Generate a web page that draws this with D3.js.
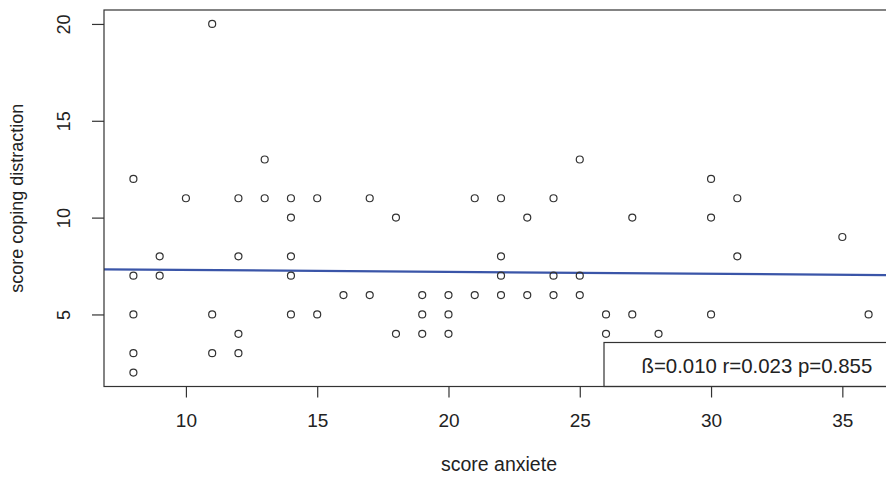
<!DOCTYPE html>
<html>
<head>
<meta charset="utf-8">
<script src="https://cdn.jsdelivr.net/npm/d3@7"></script>
<style>
  html, body { margin: 0; padding: 0; background: #fff; }
  svg { display: block; }
  text { font-family: "Liberation Sans", Arial, sans-serif; fill: #222; }
</style>
</head>
<body>
<div id="chart"></div>
<script>
// Anxiety score (x) and coping-by-distraction score (y), one entry per respondent
const anxiety = [
  8, 8, 8, 8, 8,
  9, 9,
  10,
  11, 11, 11,
  12, 12, 12, 12,
  13, 13,
  14, 14, 14, 14, 14,
  15, 15,
  16,
  17, 17,
  18, 18,
  19, 19, 19,
  20, 20, 20,
  21, 21,
  22, 22, 22, 22,
  23, 23,
  24, 24, 24,
  25, 25, 25,
  26, 26,
  27, 27,
  28,
  30, 30, 30,
  31, 31,
  35,
  36
];
const coping = [
  12, 7, 5, 3, 2,
  8, 7,
  11,
  20, 5, 3,
  11, 8, 4, 3,
  13, 11,
  11, 10, 8, 7, 5,
  11, 5,
  6,
  11, 6,
  10, 4,
  6, 5, 4,
  6, 5, 4,
  11, 6,
  11, 8, 7, 6,
  10, 6,
  11, 7, 6,
  13, 7, 6,
  5, 4,
  10, 5,
  4,
  12, 10, 5,
  11, 8,
  9,
  5
];

// Fitted regression line (intercept, slope) and the summary shown in the legend
const fitCoef = [7.40, -0.010];
const statsLabel = ["ß=0.010", "r=0.023", "p=0.855"];

const xTicks = [10, 15, 20, 25, 30, 35];
const yTicks = [5, 10, 15, 20];
const xTitle = "score anxiete";
const yTitle = "score coping distraction";

const W = 886, H = 478;
const plot = { left: 104, right: 898, top: 10, bottom: 386.5 };

// R-style 4% padding around the data range
function padded(vals) {
  const [lo, hi] = d3.extent(vals);
  const p = (hi - lo) * 0.04;
  return [lo - p, hi + p];
}

const x = d3.scaleLinear().domain(padded(anxiety)).range([plot.left, plot.right]);
const y = d3.scaleLinear().domain(padded(coping)).range([plot.bottom, plot.top]);

const svg = d3.select("#chart").append("svg")
  .attr("width", W).attr("height", H);

svg.append("defs").append("clipPath").attr("id", "plotClip")
  .append("rect")
  .attr("x", plot.left).attr("y", plot.top)
  .attr("width", plot.right - plot.left).attr("height", plot.bottom - plot.top);

const inner = svg.append("g").attr("clip-path", "url(#plotClip)");

// Regression line across the whole plotting region
const [x0, x1] = x.domain();
inner.append("line")
  .attr("x1", x(x0)).attr("y1", y(fitCoef[0] + fitCoef[1] * x0))
  .attr("x2", x(x1)).attr("y2", y(fitCoef[0] + fitCoef[1] * x1))
  .attr("stroke", "#3a55a8")
  .attr("stroke-width", 2.3);

// Open circles for each observation
const pts = anxiety.map((a, i) => ({ a, c: coping[i] }));
inner.selectAll("circle.pt").data(pts).enter().append("circle")
  .attr("class", "pt")
  .attr("cx", d => x(d.a))
  .attr("cy", d => y(d.c))
  .attr("r", 3.5)
  .attr("fill", "none")
  .attr("stroke", "#333")
  .attr("stroke-width", 1.2);

// Legend box with the regression summary (bottom right, runs off the edge)
const legendG = svg.append("g");
legendG.append("rect")
  .attr("x", 604).attr("y", 342.5)
  .attr("width", 320).attr("height", plot.bottom - 342.5)
  .attr("fill", "#fff")
  .attr("stroke", "#333")
  .attr("stroke-width", 1.2);
legendG.append("text")
  .attr("x", 641.5).attr("y", 372.5)
  .style("font-size", "20.4px")
  .text(statsLabel.join(" "));

// Plot frame
svg.append("rect")
  .attr("x", plot.left).attr("y", plot.top)
  .attr("width", plot.right - plot.left).attr("height", plot.bottom - plot.top)
  .attr("fill", "none")
  .attr("stroke", "#333")
  .attr("stroke-width", 1.2);

// Bottom axis
const xAxis = svg.append("g")
  .attr("transform", `translate(0,${plot.bottom})`)
  .call(d3.axisBottom(x).tickValues(xTicks).tickSize(11).tickFormat(d3.format("d")));
xAxis.select(".domain").remove();
xAxis.selectAll(".tick line").attr("stroke", "#333").attr("stroke-width", 1.2);
xAxis.selectAll(".tick text")
  .attr("y", 40.5).attr("dy", null)
  .style("font-size", "19px")
  .style("font-family", "'Liberation Sans', Arial, sans-serif")
  .attr("fill", "#222");

// Left axis, labels rotated parallel to the axis
const yAxis = svg.append("g")
  .attr("transform", `translate(${plot.left},0)`)
  .call(d3.axisLeft(y).tickValues(yTicks).tickSize(12).tickFormat(d3.format("d")));
yAxis.select(".domain").remove();
yAxis.selectAll(".tick line").attr("stroke", "#333").attr("stroke-width", 1.2);
yAxis.selectAll(".tick text")
  .attr("x", null).attr("dy", null)
  .attr("text-anchor", "middle")
  .attr("transform", `translate(${69.5 - plot.left},0) rotate(-90)`)
  .style("font-size", "18px")
  .style("font-family", "'Liberation Sans', Arial, sans-serif")
  .attr("fill", "#222");

// Axis titles
svg.append("text")
  .attr("x", (plot.left + plot.right) / 2 - 2)
  .attr("y", 471)
  .attr("text-anchor", "middle")
  .style("font-size", "19.5px")
  .text(xTitle);

svg.append("text")
  .attr("transform", `translate(23,${(plot.top + plot.bottom) / 2}) rotate(-90)`)
  .attr("text-anchor", "middle")
  .style("font-size", "18px")
  .text(yTitle);
</script>
</body>
</html>
